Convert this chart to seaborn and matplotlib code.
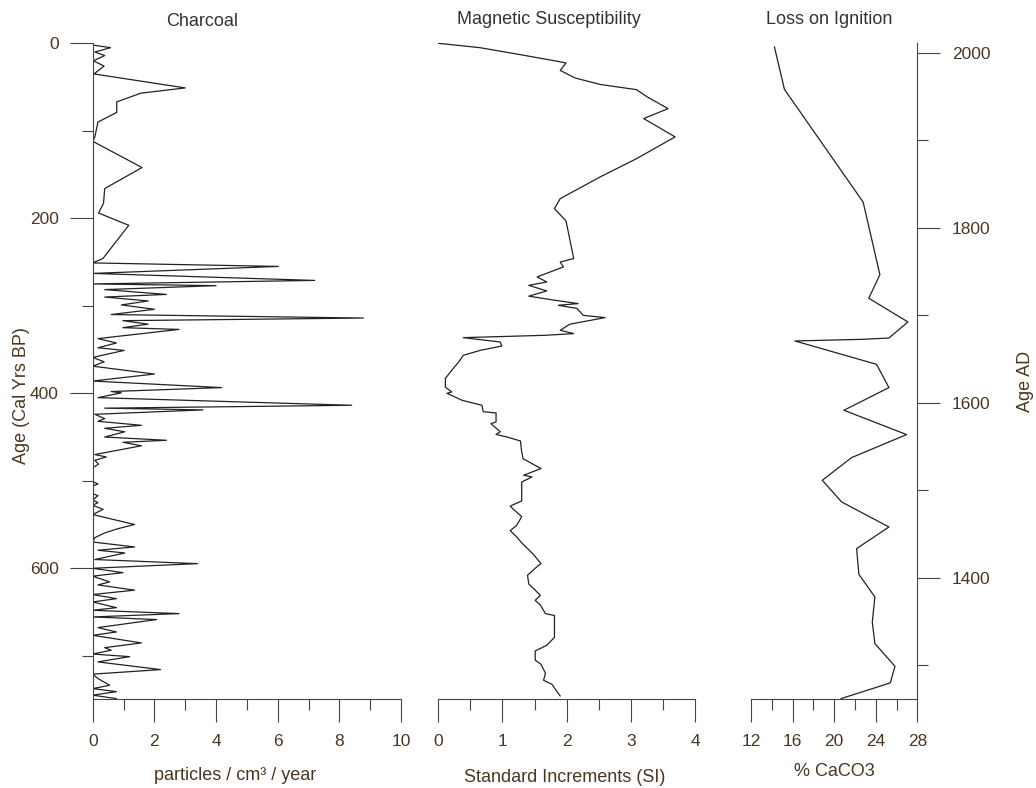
import matplotlib
matplotlib.use('Agg')
import matplotlib.pyplot as plt
import seaborn as sns
from matplotlib.ticker import FixedLocator

# Charcoal influx (particles / cm3 / year) against age (cal yrs BP)
charcoal_age = [2, 5, 10, 14, 20, 26, 35, 51, 57, 67, 79, 90, 107, 112, 142, 166, 183, 194,
                208, 246, 251, 255, 263, 271, 275, 277, 281.5, 287, 290, 294.5, 299, 304,
                310, 314, 317, 321, 325, 327, 337.5, 342.5, 348, 351, 359, 364, 369, 378,
                386, 393.5, 398, 399.5, 405, 413.7, 417, 419, 424, 429, 432, 436.6, 440,
                444, 450, 453.7, 456, 460, 470, 472.8, 476.6, 481, 485, 501, 503.6, 506,
                514.6, 517, 522, 525, 528, 532.6, 538.6, 550, 554.7, 559.6, 565, 570,
                575.6, 579.4, 582.5, 590, 594.7, 600, 605, 609, 615.6, 619, 625, 630,
                634.7, 638.5, 645, 648, 651.8, 655.6, 658.6, 667.8, 672.8, 676.6, 685.3,
                690.7, 693.7, 698, 701, 707, 715.8, 721, 726, 733.7, 737.5, 741, 745, 749]
charcoal = [0.0, 0.58, 0.07, 0.39, 0.02, 0.37, 0.04, 3.0, 1.56, 0.78, 0.78, 0.17, 0.07, 0.0,
            1.6, 0.39, 0.35, 0.19, 1.17, 0.33, 0.0, 6.02, 0.0, 7.2, 0.0, 4.0, 0.39, 2.39,
            0.39, 1.8, 0.93, 2.0, 0.6, 8.78, 0.98, 1.8, 0.98, 2.8, 0.17, 0.77, 0.17, 1.02,
            0.0, 0.37, 0.0, 2.0, 0.0, 4.18, 0.6, 0.93, 0.17, 8.4, 0.39, 3.58, 0.07, 0.39,
            0.17, 1.58, 0.39, 1.04, 0.39, 2.39, 0.98, 1.58, 0.07, 0.44, 0.07, 0.19, 0.0,
            0.0, 0.17, 0.0, 0.0, 0.17, 0.0, 0.17, 0.0, 0.34, 0.0, 1.36, 0.82, 0.39, 0.07,
            0.0, 1.36, 0.17, 1.04, 0.07, 3.4, 0.0, 0.98, 0.0, 0.55, 0.17, 1.36, 0.0, 0.77,
            0.0, 0.77, 0.0, 2.8, 0.0, 2.07, 0.17, 0.77, 0.0, 1.58, 0.39, 0.6, 0.0, 1.2,
            0.17, 2.2, 0.0, 0.17, 0.55, 0.0, 0.77, 0.0, 0.77]

# Magnetic susceptibility (SI)
magsus_age = [0, 5, 13, 20.5, 22.5, 31, 39.6, 47, 53, 61, 74.7, 86, 107, 131.8, 152.8, 177.5,
              189, 203, 246, 250, 255.6, 267, 272.8, 276.6, 283, 289, 293.7, 297.5, 299.4,
              303, 311, 313.5, 321, 328, 331.8, 333.7, 336.4, 341.4, 346, 351, 356.6, 364,
              373.7, 383, 393, 398.5, 400, 408, 413.7, 421, 422.5, 432.8, 434.7, 444, 447,
              450, 454.5, 467, 474.7, 486, 493.7, 495.6, 501.4, 523, 529, 534.5, 541, 551,
              557, 564, 571, 584, 594.6, 600, 608, 618, 625, 631, 636.6, 642, 651.8, 654,
              679, 688, 694.5, 705, 709.7, 720, 728, 732.6, 741, 746]
magsus = [0.0, 0.65, 1.28, 1.85, 1.99, 1.9, 2.13, 2.52, 3.09, 3.25, 3.58, 3.2, 3.69, 3.09,
          2.52, 1.9, 1.81, 1.99, 2.11, 1.9, 1.95, 1.54, 1.69, 1.41, 1.69, 1.41, 1.82, 2.18,
          1.87, 2.16, 2.26, 2.6, 2.05, 1.9, 2.11, 1.67, 0.39, 0.965, 0.99, 0.65, 0.39, 0.32,
          0.21, 0.11, 0.11, 0.21, 0.135, 0.37, 0.68, 0.7, 0.9, 0.9, 0.82, 0.965, 0.9, 1.07,
          1.28, 1.3, 1.32, 1.6, 1.33, 1.46, 1.3, 1.3, 1.12, 1.2, 1.3, 1.22, 1.12, 1.22, 1.3,
          1.48, 1.6, 1.51, 1.39, 1.41, 1.51, 1.59, 1.51, 1.59, 1.67, 1.81, 1.81, 1.69, 1.51,
          1.51, 1.6, 1.67, 1.64, 1.77, 1.85, 1.9]

# Loss on ignition (% CaCO3)
loi_age = [4, 52.7, 181.5, 264.5, 291.4, 318.5, 336.8, 338.3, 340.2, 366.9, 393.5, 419.4,
           447.2, 473.5, 499.4, 524.2, 552.8, 577.5, 606.9, 632.8, 661.4, 686.1, 712, 731, 749]
loi = [14.25, 15.22, 22.79, 24.4, 23.33, 27.1, 25.27, 22.8, 16.23, 24.08, 25.27, 20.94,
       26.97, 21.68, 18.86, 20.72, 25.27, 22.16, 22.38, 23.92, 23.67, 23.92, 25.85, 25.4, 20.65]

sns.set_style('ticks')
plt.rcParams['font.family'] = ['Liberation Sans', 'DejaVu Sans']

W, H = 1036, 788
text_col = '#4b3621'
axis_col = '#444444'
line_col = '#222222'
fs = 12.5   # tick labels
fs_lab = 13  # titles and axis labels


def px(x, y):
    return x / W, 1 - y / H


fig = plt.figure(figsize=(W / 100, H / 100), dpi=100)
bottom = 1 - 699 / H
height = (699 - 43.3) / H
ax1 = fig.add_axes([92.7 / W, bottom, (401 - 92.7) / W, height])
ax2 = fig.add_axes([438.3 / W, bottom, (695 - 438.3) / W, height])
ax3 = fig.add_axes([751 / W, bottom, (917.3 - 751) / W, height])

sns.lineplot(x=charcoal, y=charcoal_age, sort=False, estimator=None, color=line_col, lw=0.9, ax=ax1)
sns.lineplot(x=magsus, y=magsus_age, sort=False, estimator=None, color=line_col, lw=0.9, ax=ax2)
sns.lineplot(x=loi, y=loi_age, sort=False, estimator=None, color=line_col, lw=0.9, ax=ax3)

for ax in (ax1, ax2, ax3):
    ax.set_ylim(749.4, 0)
    ax.set_xlabel('')
    ax.set_ylabel('')
    for s in ax.spines.values():
        s.set_visible(False)
    ax.spines['bottom'].set_visible(True)
    ax.spines['bottom'].set_color(axis_col)
    ax.spines['bottom'].set_linewidth(0.8)
    ax.tick_params(axis='x', which='both', bottom=True, top=False)
    ax.tick_params(axis='x', which='major', direction='out', length=16.5, width=0.8,
                   color=axis_col, labelsize=fs, labelcolor=text_col, pad=9)
    ax.tick_params(axis='x', which='minor', direction='out', length=8, width=0.8, color=axis_col)
    ax.set_yticks([])

ax1.set_xlim(0, 10)
ax1.set_xticks([0, 2, 4, 6, 8, 10])
ax1.xaxis.set_minor_locator(FixedLocator([1, 3, 5, 7, 9]))
ax1.spines['left'].set_visible(True)
ax1.spines['left'].set_color(axis_col)
ax1.spines['left'].set_linewidth(0.8)
ax1.set_yticks([0, 200, 400, 600])
ax1.yaxis.set_minor_locator(FixedLocator([100, 300, 500, 700]))
ax1.tick_params(axis='y', which='both', left=True, right=False)
ax1.tick_params(axis='y', which='major', direction='out', length=16.5, width=0.8,
                color=axis_col, labelsize=fs, labelcolor=text_col, pad=8)
ax1.tick_params(axis='y', which='minor', direction='out', length=8, width=0.8, color=axis_col)

ax2.set_xlim(0, 4)
ax2.set_xticks([0, 1, 2, 3, 4])
ax2.xaxis.set_minor_locator(FixedLocator([0.5, 1.5, 2.5, 3.5]))

ax3.set_xlim(12, 28)
ax3.set_xticks([12, 16, 20, 24, 28])
ax3.xaxis.set_minor_locator(FixedLocator([14, 18, 22, 26]))

# calendar age axis on the right
sec = ax3.secondary_yaxis('right', functions=(lambda b: 2011 - b, lambda a: 2011 - a))
sec.set_yticks([1400, 1600, 1800, 2000])
sec.yaxis.set_minor_locator(FixedLocator([1300, 1500, 1700, 1900]))
sec.spines['right'].set_color(axis_col)
sec.spines['right'].set_linewidth(0.8)
sec.tick_params(axis='y', which='major', direction='out', length=16.5, width=0.8,
                color=axis_col, labelsize=fs, labelcolor=text_col, pad=8.5)
sec.tick_params(axis='y', which='minor', direction='out', length=8, width=0.8, color=axis_col)

# titles and axis labels
fig.text(*px(202, 21.5), 'Charcoal', ha='center', va='center', fontsize=fs_lab, color='#333333')
fig.text(*px(549, 19), 'Magnetic Susceptibility', ha='center', va='center', fontsize=fs_lab, color='#333333')
fig.text(*px(829, 20), 'Loss on Ignition', ha='center', va='center', fontsize=fs_lab, color='#333333')
fig.text(*px(235, 776), 'particles / cm³ / year', ha='center', va='center', fontsize=fs_lab, color=text_col)
fig.text(*px(565, 778), 'Standard Increments (SI)', ha='center', va='center', fontsize=fs_lab, color=text_col)
fig.text(*px(834, 771), '% CaCO3', ha='center', va='center', fontsize=fs_lab, color=text_col)
fig.text(*px(21.5, 396), 'Age (Cal Yrs BP)', ha='center', va='center', rotation=90, fontsize=fs_lab, color=text_col)
fig.text(*px(1025, 381), 'Age AD', ha='center', va='center', rotation=90, fontsize=fs_lab, color=text_col)

fig.savefig('out.png', dpi=100, facecolor='white')
